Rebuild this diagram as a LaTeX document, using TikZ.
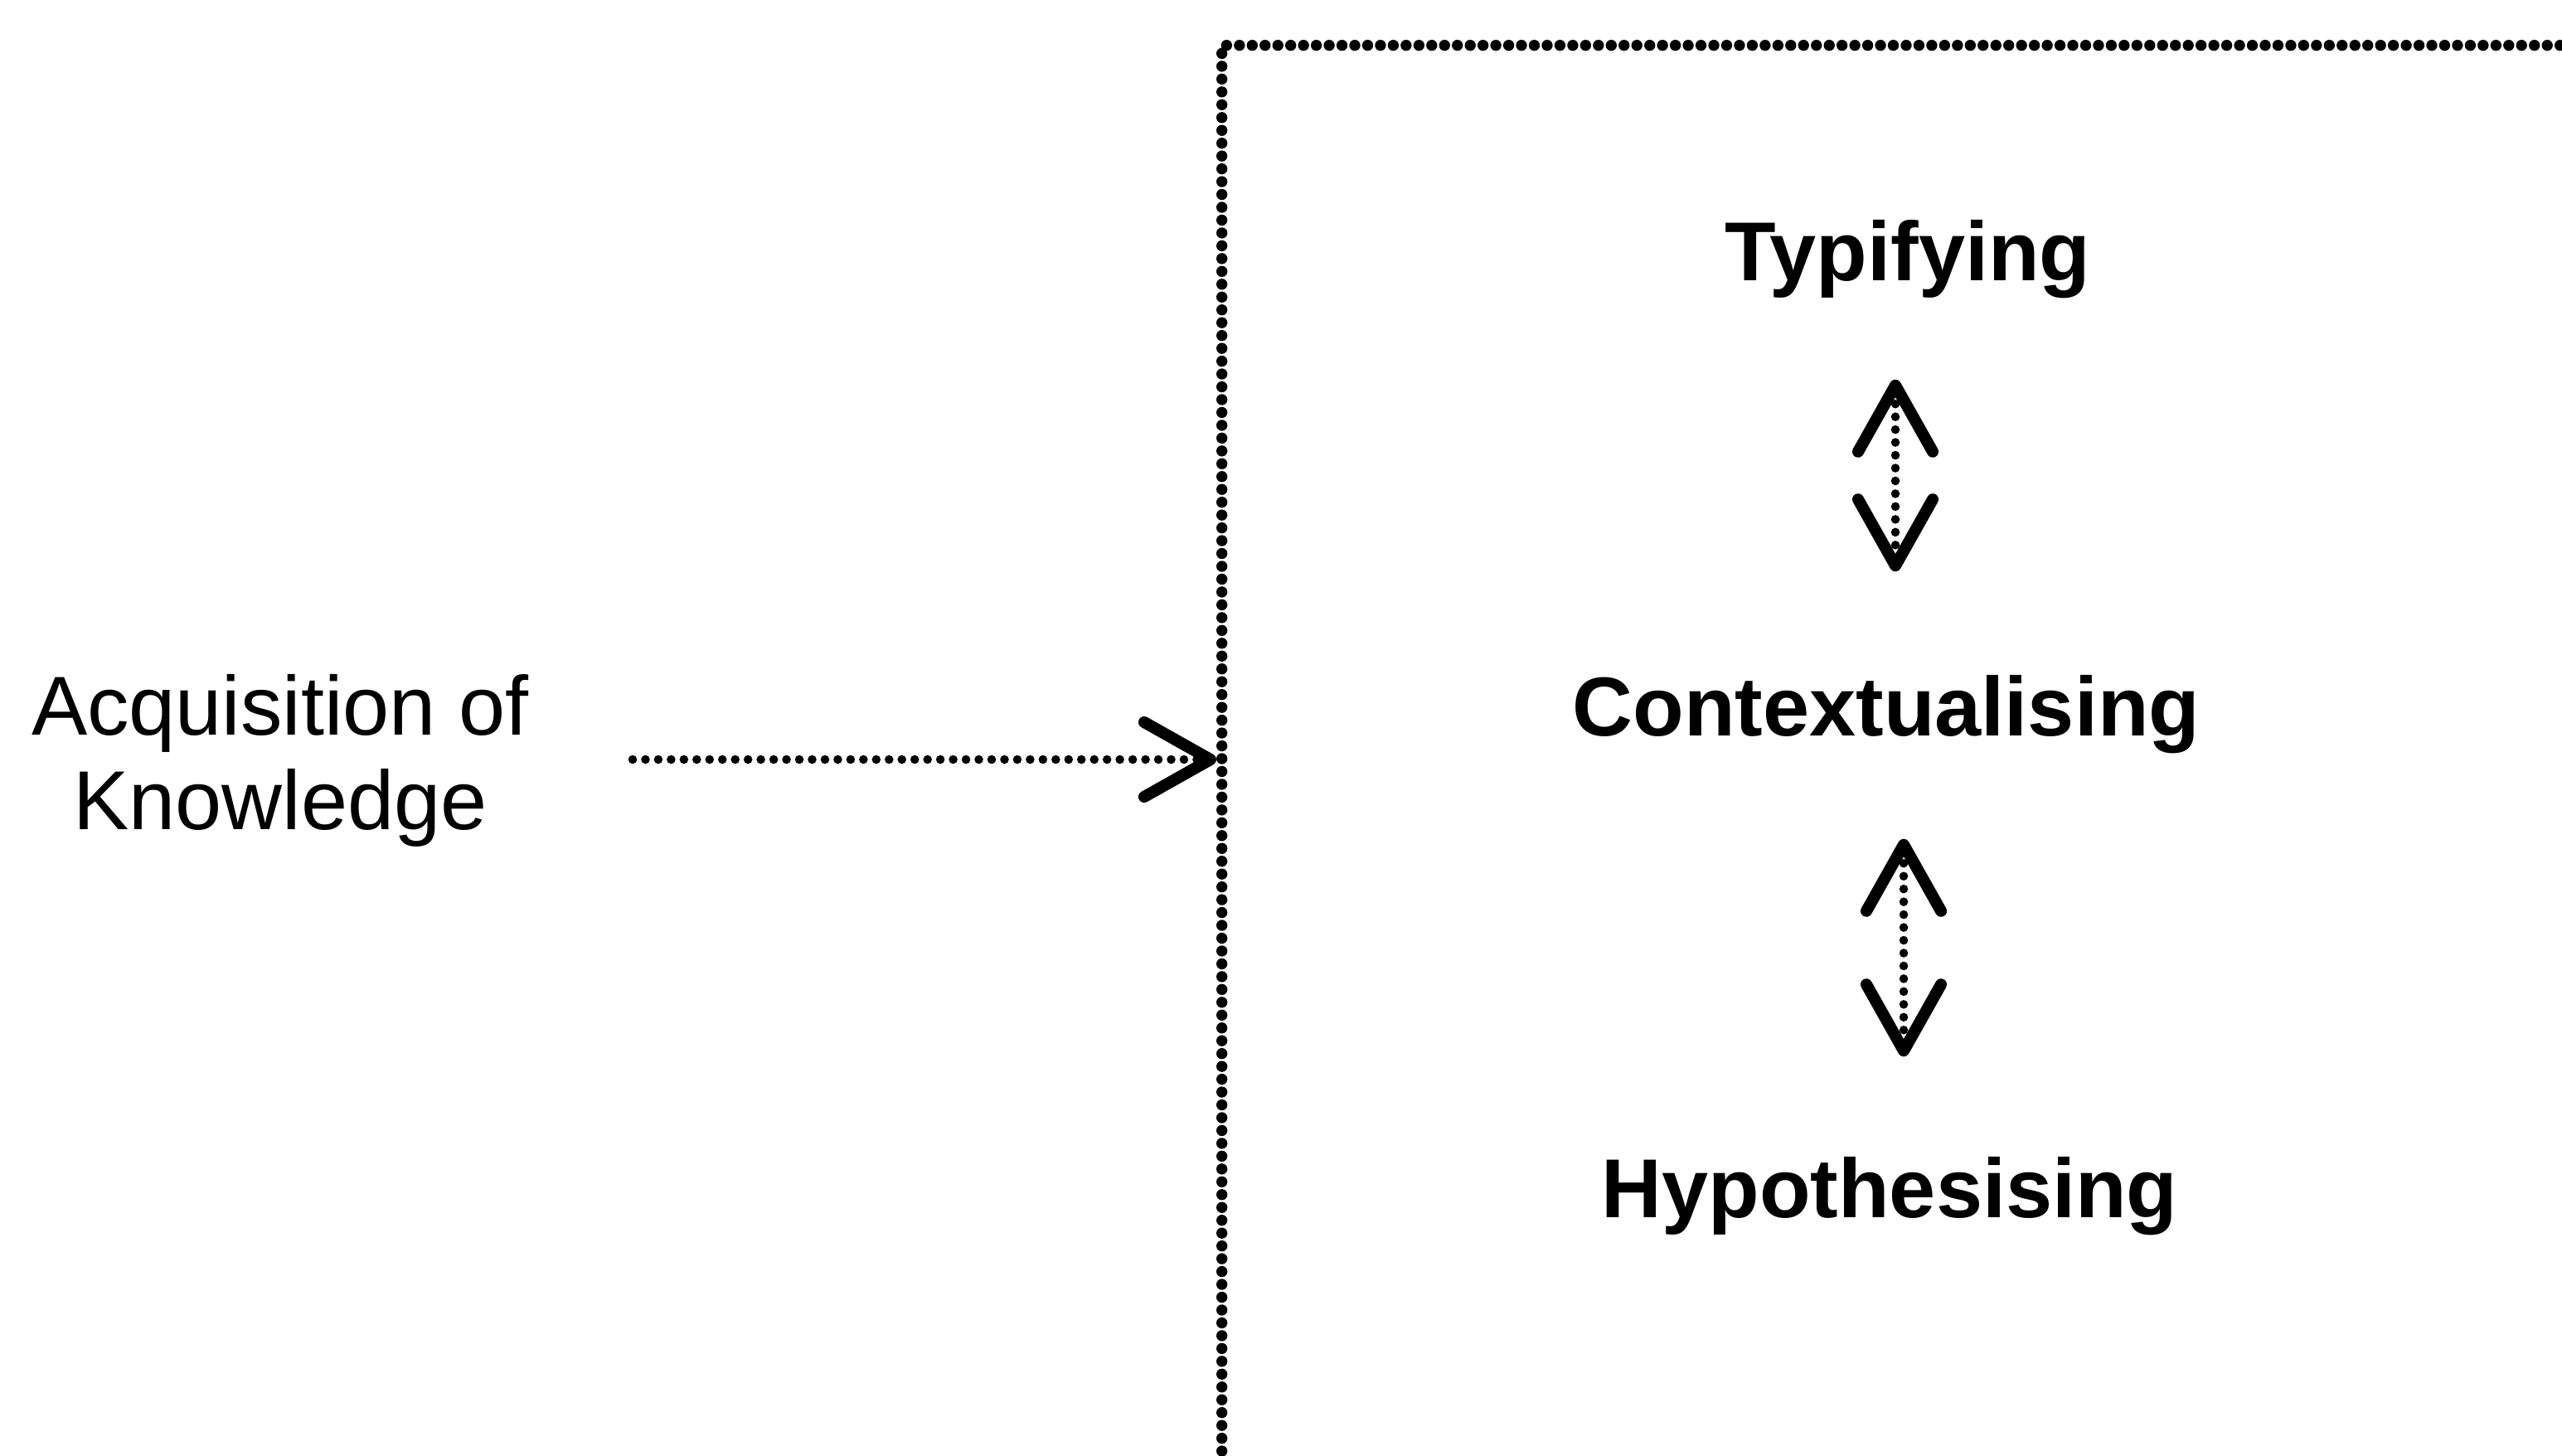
\documentclass[tikz,border=0pt]{standalone}
\usepackage{fontspec}
\setmainfont{Liberation Sans}
\usetikzlibrary{arrows.meta,positioning}

\definecolor{InkBlack}{HTML}{000000}

\tikzset{
    % Plain label text
    labeltext/.style={
        font=\fontsize{28.7}{32.4}\selectfont,
        text=InkBlack,
        inner sep=0pt,
        align=center
    },
    % Bold stage label
    stagetext/.style={
        labeltext,
        font=\fontsize{28.7}{32.4}\selectfont\bfseries,
        text height=0.75cm,
        text depth=0.22cm
    },
    % Dotted frame round the stages
    dottedframe/.style={
        draw=InkBlack,
        line width=3.8pt,
        line cap=round,
        dash pattern=on 0pt off 4.4pt,
        minimum width=16.26cm,
        minimum height=17.95cm,
        inner sep=0pt
    },
    % Open arrow head
    barbtip/.style={
        >={Straight Barb[length=0.8cm,width=0.9cm,line width=4pt,round]}
    },
    % Dotted arrow
    dotarrow/.style={
        barbtip,
        ->,
        draw=InkBlack,
        line width=3pt,
        line cap=round,
        dash pattern=on 0pt off 4.4pt
    },
    % Two-way dotted arrow
    twowayarrow/.style={
        dotarrow,
        <->
    }
}

\begin{document}
\begin{tikzpicture}
    \useasboundingbox (0,0) rectangle (30.9,-17.56);
    \clip (0,0) rectangle (30.9,-17.56);

    % Input
    \node[labeltext, anchor=north] (acq) at (3.38,-8.13) {Acquisition of\\Knowledge};
    \coordinate (src) at (7.63,-9.16);

    % Frame
    \node[dottedframe, anchor=north west] (frame) at (14.67,-0.48) {};

    % Stages
    \node[stagetext, anchor=base] (typ) at (23.01,-3.39) {Typifying};
    \node[stagetext, anchor=base] (ctx) at (22.75,-8.87) {Contextualising};
    \node[stagetext, anchor=base] (hyp) at (22.79,-14.68) {Hypothesising};

    % Arrows
    \draw[dotarrow] (src) -- (src -| frame.west);
    \draw[twowayarrow, shorten <=0.96cm, shorten >=1.22cm]
        ([xshift=-1.5mm]typ.south) -- ([xshift=-1.5mm]typ.south |- ctx.north);
    \draw[twowayarrow, shorten <=1.02cm, shorten >=1.18cm]
        ([xshift=2.1mm]ctx.south) -- ([xshift=2.1mm]ctx.south |- hyp.north);
\end{tikzpicture}
\end{document}
